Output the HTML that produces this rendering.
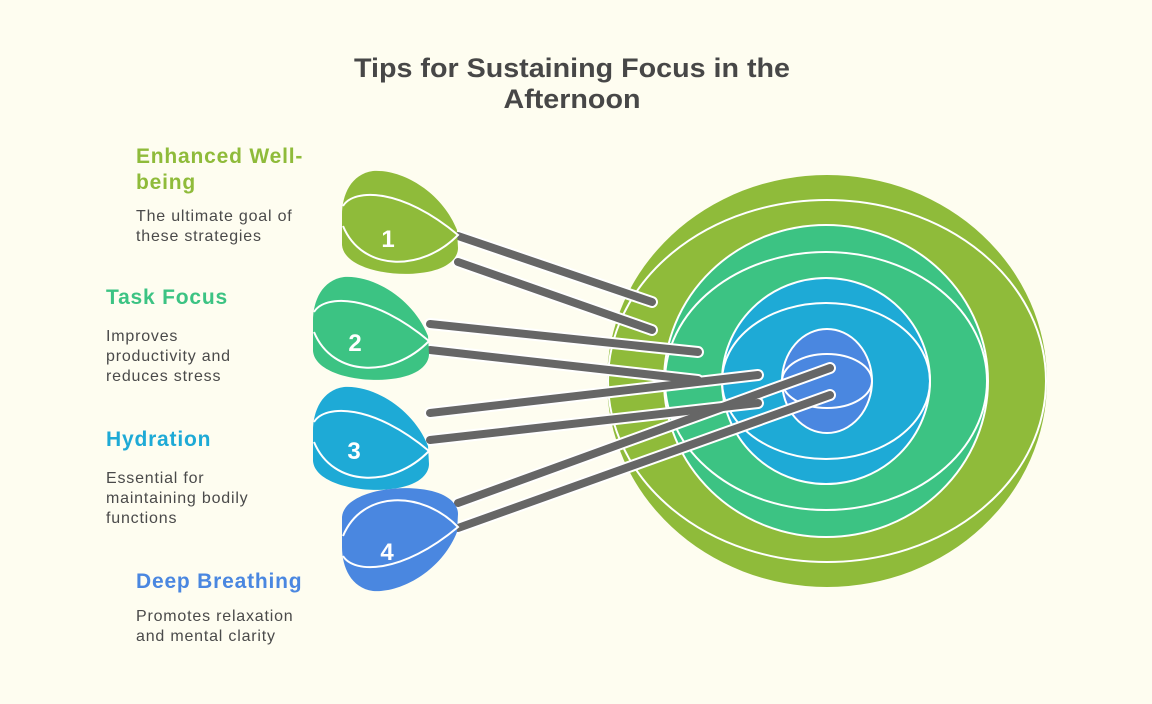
<!DOCTYPE html>
<html><head><meta charset="utf-8"><style>
html,body{margin:0;padding:0;background:#fefdf0;}
svg{display:block;font-family:"Liberation Sans",sans-serif;}
</style></head><body>
<svg width="1152" height="704" viewBox="0 0 1152 704" xmlns="http://www.w3.org/2000/svg">
<rect width="1152" height="704" fill="#fefdf0"/>
<text x="572" y="77" text-anchor="middle" font-size="27" font-weight="bold" fill="#474747" textLength="436" lengthAdjust="spacingAndGlyphs">Tips for Sustaining Focus in the</text>
<text x="572" y="108" text-anchor="middle" font-size="27" font-weight="bold" fill="#474747" textLength="137" lengthAdjust="spacingAndGlyphs">Afternoon</text>

<g font-size="21" font-weight="bold" letter-spacing="0.8">
<text x="136" y="163" fill="#8fbb3a">Enhanced Well-</text>
<text x="136" y="189" fill="#8fbb3a">being</text>
<text x="106" y="304" fill="#3cc383">Task Focus</text>
<text x="106" y="446" fill="#1eaad6">Hydration</text>
<text x="136" y="588" fill="#4a87e0">Deep Breathing</text>
</g>
<g font-size="16" fill="#4a4a4a" letter-spacing="0.8">
<text x="136" y="221">The ultimate goal of</text>
<text x="136" y="241">these strategies</text>
<text x="106" y="341">Improves</text>
<text x="106" y="361">productivity and</text>
<text x="106" y="381">reduces stress</text>
<text x="106" y="483">Essential for</text>
<text x="106" y="503">maintaining bodily</text>
<text x="106" y="523">functions</text>
<text x="136" y="621">Promotes relaxation</text>
<text x="136" y="641">and mental clarity</text>
</g>

<!-- target -->
<g stroke="#fff" stroke-width="2">
<ellipse cx="827" cy="381" rx="220" ry="206" fill="#8fbb3a" stroke="none"/>
<ellipse cx="827" cy="381" rx="219" ry="181" fill="none"/>
<ellipse cx="826" cy="381" rx="162" ry="156" fill="#3cc383"/>
<ellipse cx="826" cy="381" rx="161" ry="129" fill="none"/>
<ellipse cx="826" cy="381" rx="104" ry="103" fill="#1eaad6"/>
<ellipse cx="826" cy="381" rx="104" ry="78" fill="none"/>
<ellipse cx="827" cy="381" rx="45" ry="52" fill="#4a87e0"/>
<ellipse cx="827" cy="381" rx="45" ry="27" fill="none"/>
</g>

<!-- shafts -->
<g stroke-linecap="round">
<g stroke="#fff" stroke-width="12">
<line x1="458" y1="236" x2="652" y2="302"/><line x1="458" y1="262" x2="652" y2="330"/>
<line x1="430" y1="324" x2="698" y2="352"/><line x1="430" y1="350" x2="698" y2="380"/>
<line x1="430" y1="413" x2="758" y2="375"/><line x1="430" y1="440" x2="758" y2="403"/>
<line x1="458" y1="503" x2="830" y2="368"/><line x1="458" y1="528" x2="830" y2="395"/>
</g>
<g stroke="#666" stroke-width="8">
<line x1="458" y1="236" x2="652" y2="302"/><line x1="458" y1="262" x2="652" y2="330"/>
<line x1="430" y1="324" x2="698" y2="352"/><line x1="430" y1="350" x2="698" y2="380"/>
<line x1="430" y1="413" x2="758" y2="375"/><line x1="430" y1="440" x2="758" y2="403"/>
<line x1="458" y1="503" x2="830" y2="368"/><line x1="458" y1="528" x2="830" y2="395"/>
</g>
</g>

<!-- dart heads -->
<defs>
<g id="head">
<path d="M115,60 C100,22 60,-1 31,1 C9,4 0,25 0,45 L0,75 C2,98 48,107 78,103 C106,100 116,88 116,78 Z"/>
<path d="M1,36 C12,18 60,18 116,65 C80,102 20,102 1,56" fill="none" stroke="#fff" stroke-width="2"/>
</g>
</defs>
<use href="#head" transform="translate(342,170)" fill="#8fbb3a"/>
<use href="#head" transform="translate(313,276)" fill="#3cc383"/>
<use href="#head" transform="translate(313,386)" fill="#1eaad6"/>
<use href="#head" transform="translate(342,592) scale(1,-1)" fill="#4a87e0"/>

<g font-size="24" font-weight="bold" fill="#fff" text-anchor="middle">
<text x="388" y="247">1</text>
<text x="355" y="351">2</text>
<text x="354" y="459">3</text>
<text x="387" y="560">4</text>
</g>
</svg>
</body></html>
